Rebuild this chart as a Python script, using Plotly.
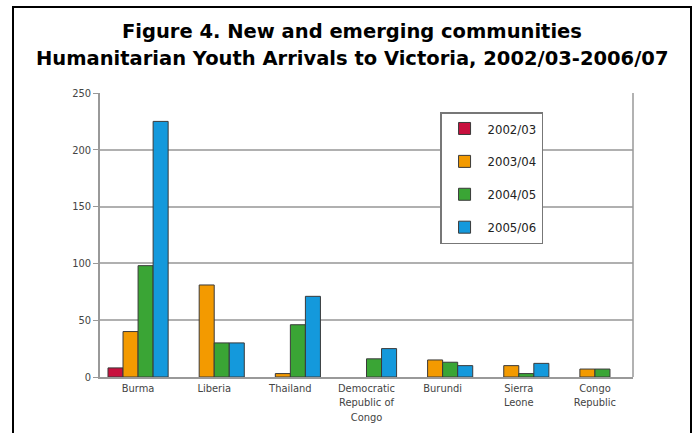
import plotly.graph_objects as go

categories = ["Burma", "Liberia", "Thailand", "Democratic<br>Republic of<br>Congo",
              "Burundi", "Sierra<br>Leone", "Congo<br>Republic"]
series_names = ["2002/03", "2003/04", "2004/05", "2005/06"]
v_2002_03 = [8, None, None, None, None, None, None]
v_2003_04 = [40, 81, 3, None, 15, 10, 7]
v_2004_05 = [98, 30, 46, 16, 13, 3, 7]
v_2005_06 = [225, 30, 71, 25, 10, 12, None]
colors = ["#C8103E", "#F39A00", "#3AA535", "#1499DC"]
y_ticks = [0, 50, 100, 150, 200, 250]
title_line1 = "Figure 4. New and emerging communities"
title_line2 = "Humanitarian Youth Arrivals to Victoria, 2002/03-2006/07"

FONT = "DejaVu Sans Condensed, DejaVu Sans, sans-serif"
TITLE_FONT = dict(family="DejaVu Sans, sans-serif", size=19.5, color="black", weight="bold")

fig = go.Figure()
for name, vals, col in zip(series_names, [v_2002_03, v_2003_04, v_2004_05, v_2005_06], colors):
    fig.add_trace(go.Bar(
        x=categories, y=vals, name=name, legendgroup=name,
        marker=dict(color=col, line=dict(color="#3a3a3a", width=1)),
    ))

fig.update_layout(
    width=694, height=433,
    margin=dict(l=100, r=61, t=93, b=56),
    paper_bgcolor="white", plot_bgcolor="white",
    barmode="group", bargap=0.21, bargroupgap=0,
    font=dict(family=FONT, size=11, color="#444444"),
    xaxis=dict(
        showline=True, linecolor="#999999", linewidth=1.5, automargin=False,
        ticks="", tickfont=dict(size=11, color="#444444"),
    ),
    yaxis=dict(
        range=[0, 250], tickvals=y_ticks, automargin=False,
        showgrid=True, gridcolor="#b0b0b0", gridwidth=1.5,
        showline=True, linecolor="#999999", linewidth=1.5,
        ticks="outside", ticklen=5, tickcolor="#999999",
        tickfont=dict(size=11, color="#444444"), zeroline=False,
    ),
    legend=dict(
        x=0.638, y=0.933, xanchor="left", yanchor="top",
        bordercolor="#777777", borderwidth=1.5, bgcolor="white",
        font=dict(size=13, color="#222222", family=FONT),
        tracegroupgap=13, itemwidth=36,
    ),
    showlegend=True,
)

# two-line title
fig.add_annotation(text=title_line1, xref="paper", yref="paper", x=0.473, y=(377 - 32) / 284,
                   xanchor="center", yanchor="middle", showarrow=False, font=TITLE_FONT)
fig.add_annotation(text=title_line2, xref="paper", yref="paper", x=0.473, y=(377 - 58) / 284,
                   xanchor="center", yanchor="middle", showarrow=False, font=TITLE_FONT)

# right-hand frame line of the plot area
fig.add_shape(type="line", xref="paper", yref="paper", x0=1, x1=1, y0=0, y1=1,
              line=dict(color="#999999", width=1.5))
# outer black border of the figure box
fig.add_shape(type="rect", xref="paper", yref="paper",
              x0=(13 - 100) / 533, x1=(691 - 100) / 533, y0=-0.35, y1=(377 - 7) / 284,
              line=dict(color="black", width=2), layer="below")

fig.write_html("out.html")
